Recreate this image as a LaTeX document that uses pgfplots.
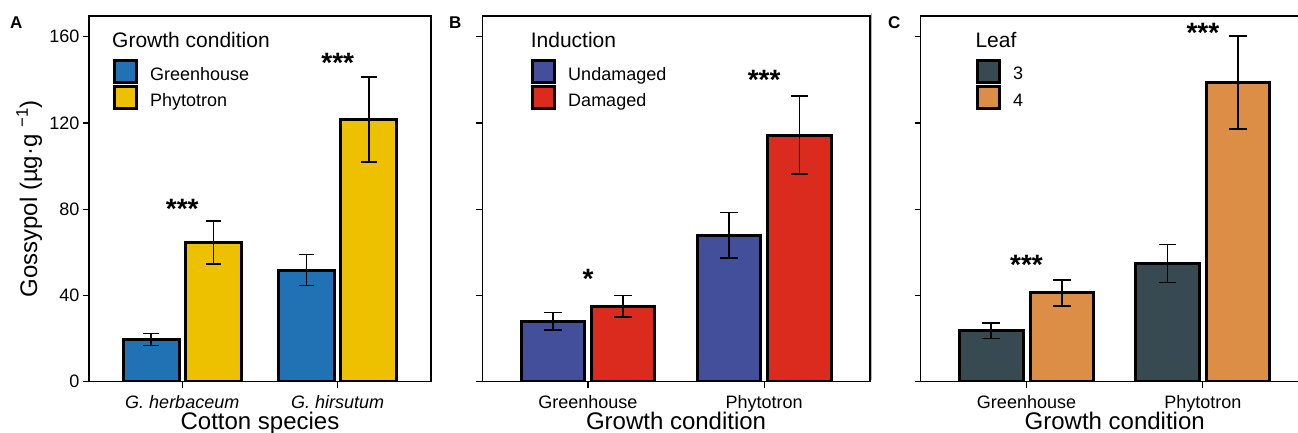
\documentclass[border=0pt]{standalone}
\usepackage{fontspec}
\setmainfont{Liberation Sans}
\usepackage{pgfplots}
\pgfplotsset{compat=1.18}

\definecolor{ghblue}{RGB}{33,113,181}
\definecolor{phygold}{RGB}{237,193,0}
\definecolor{undam}{RGB}{67,79,155}
\definecolor{dam}{RGB}{219,42,30}
\definecolor{leafthree}{RGB}{55,74,81}
\definecolor{leaffour}{RGB}{221,142,70}

\pgfplotsset{
  panel/.style={
    scale only axis, height=365.7pt,
    ymin=0, ymax=169.6, xmin=0.4, xmax=2.6,
    ybar, bar width=0.36,
    xtick={1,2}, ytick={0,40,80,120,160},
    tick pos=left, tick align=outside, major tick length=6pt,
    tick style={black, line width=1.2pt},
    axis line style={line width=1.4pt},
    tick label style={font=\fontsize{18}{20}\selectfont},
    /pgf/number format/assume math mode=true,
    xticklabel style={anchor=base, yshift=-21pt},
    every axis x label/.style={at={(rel axis cs:0.5,-0.132)}, anchor=base,
      font=\fontsize{24}{26}\selectfont},
    legend cell align=left,
    legend style={anchor=north west, draw=none, fill=none,
      inner sep=0pt, outer sep=0pt, row sep=1.2pt,
      nodes={inner sep=0pt, outer sep=0pt},
      font=\fontsize{18}{20}\selectfont,
      /tikz/every odd column/.append style={column sep=12pt}},
    every axis plot post/.append style={
      legend image code/.code={\draw[##1] (0pt,-8pt) rectangle (22pt,14pt);}},
  },
  bars/.style n args={3}{draw=black, line width=3pt, fill=#1, bar shift=#2,
    error bars/y dir=both, error bars/y explicit,
    error bars/error bar style={line width=1.6pt, black},
    error bars/error mark options={rotate=90, line width=1.6pt, black, mark size=#3}},
}
\tikzset{
  stars/.style={anchor=north, inner sep=0pt, font=\bfseries\fontsize{28}{30}\selectfont},
  ltitle/.style={anchor=base west, inner sep=0pt, font=\fontsize{21}{23}\selectfont},
}

\begin{document}
\begin{tikzpicture}[x=1pt, y=1pt]

% A: cotton species
\begin{axis}[panel, at={(89pt,51.3pt)}, anchor=south west, width=342pt,
  xticklabels={\textit{G. herbaceum}, \textit{G. hirsutum}},
  xlabel={Cotton species},
  ylabel={Gossypol (µg·g \textsuperscript{−1})},
  every axis y label/.style={at={(rel axis cs:-0.152,0.5)}, rotate=90, anchor=base,
    font=\fontsize{24}{26}\selectfont},
  legend style={at={(rel axis cs:0.0702,0.8825)}}]
\addplot[bars={ghblue}{-0.2}{7.75pt}] coordinates {(1,19.5) +- (0,2.8) (2,51.8) +- (0,7.2)};
\addplot[bars={phygold}{0.2}{7.75pt}] coordinates {(1,64.5) +- (0,10) (2,121.5) +- (0,19.7)};
\legend{Greenhouse, Phytotron}
\node[ltitle] at (rel axis cs:0.0673,0.913) {Growth condition};
\node[stars] at (axis cs:1,84.7) {***};
\node[stars] at (axis cs:2,152.6) {***};
\end{axis}

% B: induction
\begin{axis}[panel, at={(482.3pt,51.3pt)}, anchor=south west, width=387.5pt,
  xticklabels={Greenhouse, Phytotron}, yticklabels={},
  xlabel={Growth condition},
  legend style={at={(rel axis cs:0.1263,0.8825)}}]
\addplot[bars={undam}{-0.2}{8.8pt}] coordinates {(1,28) +- (0,4.1) (2,67.9) +- (0,10.6)};
\addplot[bars={dam}{0.2}{8.8pt}] coordinates {(1,35) +- (0,4.9) (2,114.3) +- (0,18.1)};
\legend{Undamaged, Damaged}
\node[ltitle] at (rel axis cs:0.1248,0.913) {Induction};
\node[stars] at (axis cs:1,52.1) {*};
\node[stars] at (axis cs:2,144.6) {***};
\end{axis}

% C: leaf
\begin{axis}[panel, at={(920.7pt,51.3pt)}, anchor=south west, width=388pt,
  xticklabels={Greenhouse, Phytotron}, yticklabels={},
  xlabel={Growth condition},
  legend style={at={(rel axis cs:0.1425,0.8825)}}]
\addplot[bars={leafthree}{-0.2}{8.8pt}] coordinates {(1,23.6) +- (0,3.5) (2,54.8) +- (0,8.8)};
\addplot[bars={leaffour}{0.2}{8.8pt}] coordinates {(1,41.2) +- (0,6) (2,138.8) +- (0,21.6)};
\legend{3, 4}
\node[ltitle] at (rel axis cs:0.1407,0.913) {Leaf};
\node[stars] at (axis cs:1,58.8) {***};
\node[stars] at (axis cs:2,166.2) {***};
\end{axis}

\draw[black!30, line width=1pt] (871.5,53) -- (871.5,420);
\foreach \lab/\xx in {A/10, B/449, C/888}
  \node[anchor=base west, inner sep=0pt, font=\bfseries\fontsize{17}{19}\selectfont] at (\xx,404) {\lab};

\pgfresetboundingbox
\useasboundingbox (0,0) rectangle (1298,433);
\end{tikzpicture}
\end{document}
